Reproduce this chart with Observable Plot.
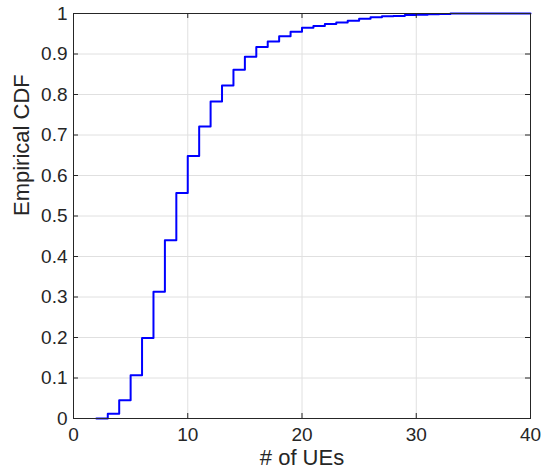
<!DOCTYPE html>
<html>
<head>
<meta charset="utf-8">
<script src="https://cdn.jsdelivr.net/npm/d3@7"></script>
<script src="https://cdn.jsdelivr.net/npm/@observablehq/plot@0.6"></script>
<style>
  html, body { margin: 0; padding: 0; background: #fff; overflow: hidden; }
</style>
</head>
<body>
<div id="chart"></div>
<script>
// Number of UEs (x) and empirical CDF value (y) at each step
const ueCounts = [2, 3, 4, 5, 6, 7, 8, 9, 10, 11, 12, 13, 14, 15, 16, 17, 18, 19, 20,
  21, 22, 23, 24, 25, 26, 27, 28, 29, 30, 31, 32, 33, 40];
const cdfValues = [0, 0.012, 0.045, 0.107, 0.199, 0.313, 0.440, 0.557, 0.648, 0.721,
  0.783, 0.822, 0.861, 0.893, 0.917, 0.931, 0.944, 0.955, 0.965, 0.969, 0.974, 0.978,
  0.982, 0.987, 0.991, 0.993, 0.994, 0.996, 0.997, 0.998, 0.999, 1.0, 1.0];

const xTicks = [0, 10, 20, 30, 40];
const yTicks = [0, 0.1, 0.2, 0.3, 0.4, 0.5, 0.6, 0.7, 0.8, 0.9, 1];
const xLabel = "# of UEs";
const yLabel = "Empirical CDF";

const data = ueCounts.map((x, i) => ({x, y: cdfValues[i]}));

const W = 541, H = 473;
const mL = 73, mR = 11, mT = 13, mB = 55;
const innerW = W - mL - mR, innerH = H - mT - mB;
const axisColor = "#262626";
const fmt = d3.format("~g");

const chart = Plot.plot({
  width: W,
  height: H,
  marginLeft: mL,
  marginRight: mR,
  marginTop: mT,
  marginBottom: mB,
  style: {fontFamily: "'Liberation Sans', Arial, Helvetica, sans-serif", color: axisColor, background: "#fff"},
  x: {domain: [0, 40]},
  y: {domain: [0, 1]},
  marks: [
    Plot.gridX(xTicks, {stroke: "#e0e0e0", strokeOpacity: 1}),
    Plot.gridY(yTicks, {stroke: "#e0e0e0", strokeOpacity: 1}),
    Plot.line(data, {x: "x", y: "y", curve: "step-after", stroke: "#0000ff", strokeWidth: 2}),
    Plot.frame({stroke: axisColor, strokeWidth: 1}),
    // inward tick marks on all four sides
    Plot.tickX(xTicks, {x: d => d, stroke: axisColor, insetTop: innerH - 5}),
    Plot.tickX(xTicks, {x: d => d, stroke: axisColor, insetBottom: innerH - 5}),
    Plot.tickY(yTicks, {y: d => d, stroke: axisColor, insetRight: innerW - 5}),
    Plot.tickY(yTicks, {y: d => d, stroke: axisColor, insetLeft: innerW - 5}),
    Plot.axisX(xTicks, {tickSize: 0, tickPadding: 9, fontSize: 19, label: null, tickFormat: fmt, fill: axisColor}),
    Plot.axisY(yTicks, {tickSize: 0, tickPadding: 6, fontSize: 19, label: null, tickFormat: fmt, fill: axisColor}),
    Plot.text([xLabel], {frameAnchor: "bottom", dy: 39, lineAnchor: "middle", fontSize: 22, fill: axisColor}),
    Plot.text([yLabel], {frameAnchor: "left", dx: -52, rotate: -90, lineAnchor: "middle", fontSize: 22, fill: axisColor})
  ]
});
document.getElementById("chart").appendChild(chart);
</script>
</body>
</html>
